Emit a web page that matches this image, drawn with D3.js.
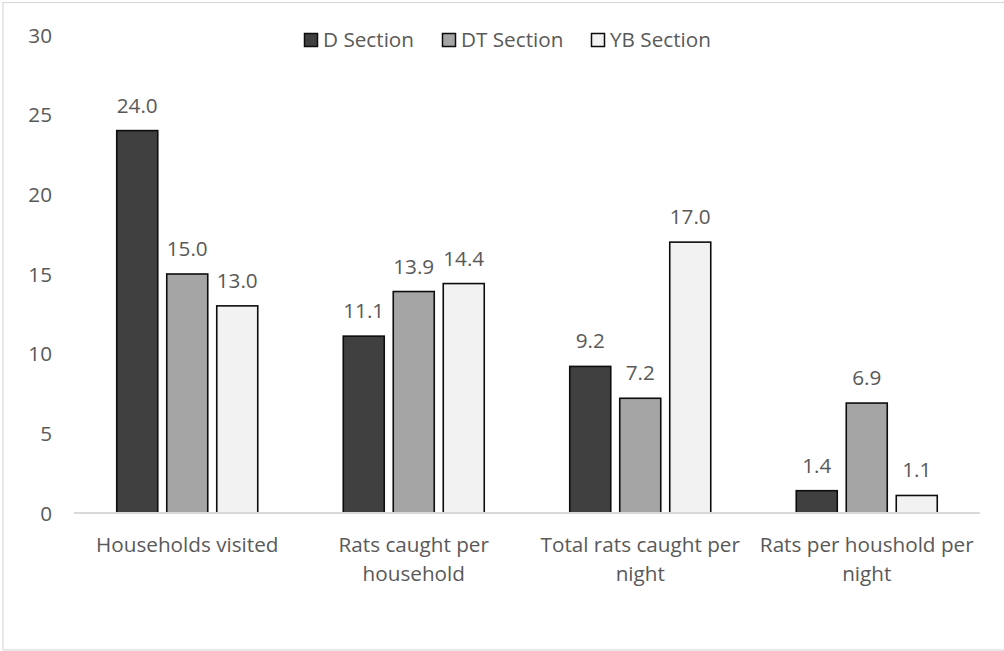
<!DOCTYPE html>
<html>
<head>
<meta charset="utf-8">
<script src="https://cdn.jsdelivr.net/npm/d3@7"></script>
<style>
  html, body { margin: 0; padding: 0; background: #fff; }
  svg { display: block; }
  text { font-family: "Open Sans", "DejaVu Sans", sans-serif; fill: #595959; }
</style>
</head>
<body>
<svg id="chart" width="1004" height="651"></svg>
<script>
// Survey results per section
const categories = [
  "Households visited",
  "Rats caught per household",
  "Total rats caught per night",
  "Rats per houshold per night"
];
const seriesNames = ["D Section", "DT Section", "YB Section"];
const dSection  = [24.0, 11.1, 9.2, 1.4];
const dtSection = [15.0, 13.9, 7.2, 6.9];
const ybSection = [13.0, 14.4, 17.0, 1.1];
const yTicks = [0, 5, 10, 15, 20, 25, 30];
const seriesColors = ["#404040", "#a5a5a5", "#f2f2f2"];

const seriesValues = [dSection, dtSection, ybSection];
const FS = 20.7;

const svg = d3.select("#chart");
const W = 1004, H = 651;

// Chart area frame
svg.append("rect")
  .attr("x", 3).attr("y", 2.5)
  .attr("width", W + 10).attr("height", 647.5)
  .attr("fill", "#fff").attr("stroke", "#d9d9d9").attr("stroke-width", 1.2);

const plot = { left: 74, right: 980, top: 35, bottom: 513 };

const x0 = d3.scaleBand()
  .domain(categories)
  .range([plot.left, plot.right])
  .paddingInner(0.3775)
  .paddingOuter(0.3775 / 2);

const x1 = d3.scaleBand()
  .domain(seriesNames)
  .range([0, x0.bandwidth()])
  .paddingInner(0.18)
  .paddingOuter(0);

const y = d3.scaleLinear().domain([0, 30]).range([plot.bottom, plot.top]);

// Y axis labels (no axis line, no ticks)
const yAxis = d3.axisLeft(y).tickValues(yTicks).tickSize(0).tickPadding(0).tickFormat(d3.format("d"));
const yG = svg.append("g").attr("transform", `translate(52,0)`).call(yAxis);
yG.select(".domain").remove();
yG.selectAll("text")
  .attr("font-size", FS)
  .attr("fill", "#595959")
  .attr("font-family", "Open Sans, sans-serif")
  .attr("dy", "0.35em");

// Bars
const groups = svg.append("g").selectAll("g")
  .data(categories)
  .join("g")
  .attr("transform", c => `translate(${x0(c)},0)`);

groups.selectAll("rect")
  .data((c, i) => seriesNames.map((s, j) => ({ s, j, v: seriesValues[j][i] })))
  .join("rect")
  .attr("x", d => x1(d.s))
  .attr("y", d => y(d.v))
  .attr("width", x1.bandwidth())
  .attr("height", d => y(0) - y(d.v))
  .attr("fill", d => seriesColors[d.j])
  .attr("stroke", "#0d0d0d")
  .attr("stroke-width", 1.6);

// Value labels
groups.selectAll("text.val")
  .data((c, i) => seriesNames.map((s, j) => ({ s, j, v: seriesValues[j][i] })))
  .join("text")
  .attr("class", "val")
  .attr("x", d => x1(d.s) + x1.bandwidth() / 2)
  .attr("y", d => y(d.v) - 18)
  .attr("text-anchor", "middle")
  .attr("font-size", FS)
  .text(d => d3.format(".1f")(d.v));

// Baseline
svg.append("line")
  .attr("x1", plot.left).attr("x2", plot.right)
  .attr("y1", y(0)).attr("y2", y(0))
  .attr("stroke", "#d9d9d9").attr("stroke-width", 2);

// Category labels, wrapped to the band width
const maxW = 224;
categories.forEach(c => {
  const t = svg.append("text")
    .attr("text-anchor", "middle")
    .attr("font-size", FS)
    .attr("x", x0(c) + x0.bandwidth() / 2)
    .attr("y", 552);
  const words = c.split(" ");
  const lines = [];
  let cur = [];
  const probe = svg.append("text").attr("font-size", FS);
  words.forEach(w => {
    const test = cur.concat(w).join(" ");
    probe.text(test);
    if (probe.node().getComputedTextLength() > maxW && cur.length) {
      lines.push(cur.join(" "));
      cur = [w];
    } else {
      cur.push(w);
    }
  });
  lines.push(cur.join(" "));
  probe.remove();
  lines.forEach((ln, k) => {
    t.append("tspan")
      .attr("x", x0(c) + x0.bandwidth() / 2)
      .attr("dy", k === 0 ? 0 : 28.5)
      .text(ln);
  });
});

// Legend
const legendX = [304, 442, 591];
const legend = svg.append("g").selectAll("g")
  .data(seriesNames)
  .join("g")
  .attr("transform", (d, i) => `translate(${legendX[i]},33)`);
legend.append("rect")
  .attr("x", 0.5).attr("y", 0.5)
  .attr("width", 13).attr("height", 13)
  .attr("fill", (d, i) => seriesColors[i])
  .attr("stroke", "#0d0d0d").attr("stroke-width", 1.5);
legend.append("text")
  .attr("x", 19).attr("y", 14)
  .attr("font-size", FS)
  .text(d => d);
</script>
</body>
</html>
